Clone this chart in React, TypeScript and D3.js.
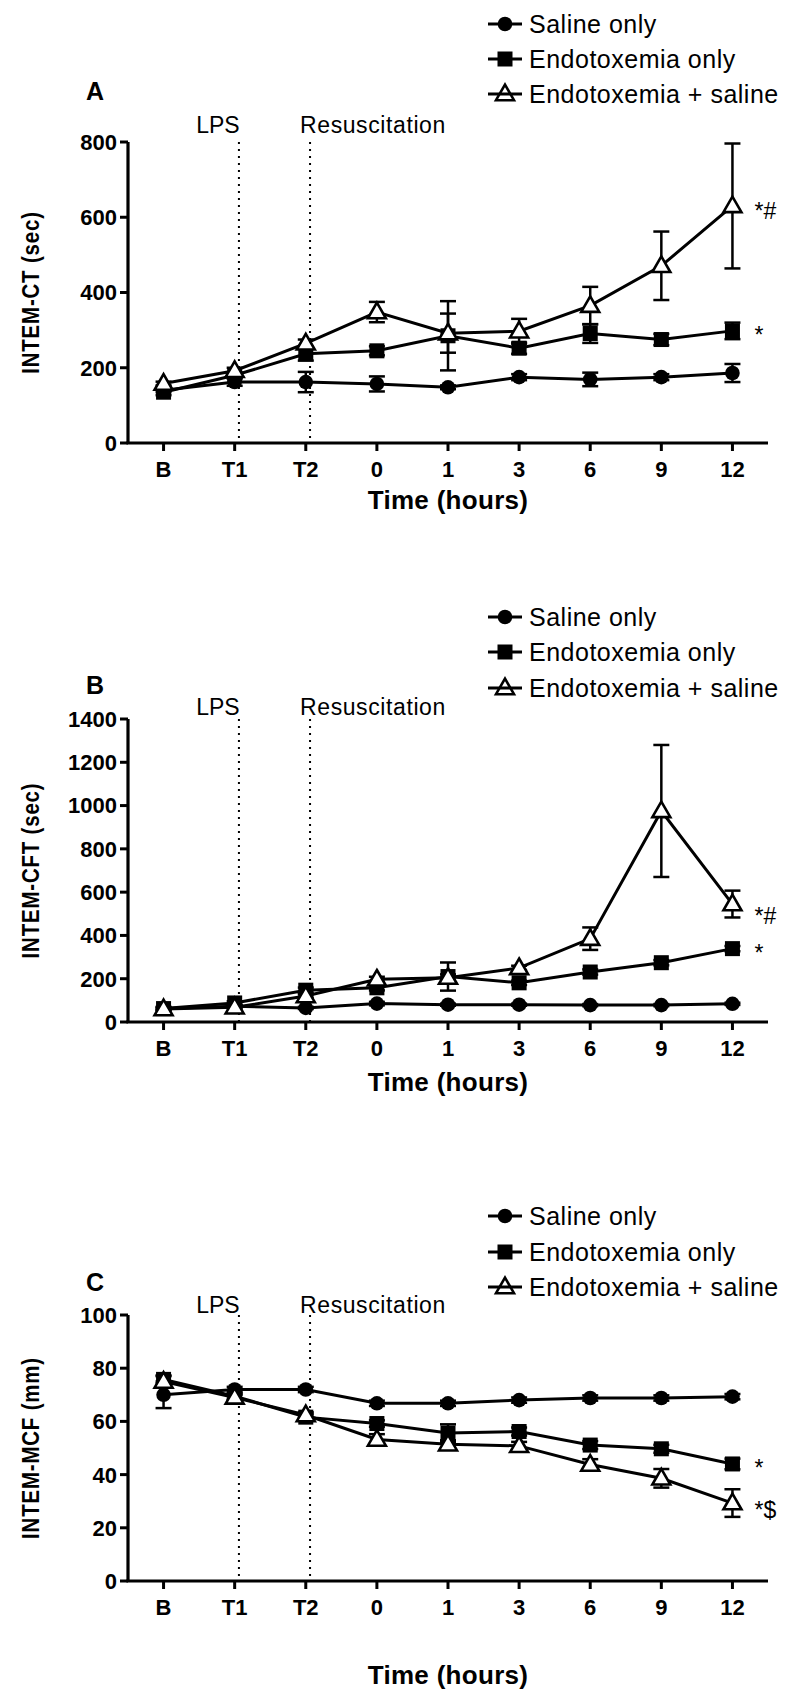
import React from "react";
import * as d3 from "d3";

// ---------- data ----------
const timePoints = ["B", "T1", "T2", "0", "1", "3", "6", "9", "12"];
const groupNames = ["Saline only", "Endotoxemia only", "Endotoxemia + saline"];

// Panel A: INTEM-CT (sec)
const ctSaline = [140, 162, 162, 157, 148, 175, 169, 175, 186];
const ctSalineErr = [5, 10, 27, 20, 5, 8, 18, 8, 24];
const ctEndo = [135, 180, 237, 245, 285, 252, 291, 275, 298];
const ctEndoErr = [8, 8, 18, 12, 92, 15, 25, 15, 22];
const ctEndoSaline = [158, 192, 265, 348, 292, 297, 365, 471, 630];
const ctEndoSalineErr = [5, 8, 10, 27, 52, 33, 50, 91, 166];
const ctTicks = [0, 200, 400, 600, 800];
const ctMarks = ["", "*", "*#"];

// Panel B: INTEM-CFT (sec)
const cftSaline = [62, 73, 65, 85, 80, 80, 78, 78, 84];
const cftSalineErr = [5, 5, 5, 8, 5, 5, 5, 5, 5];
const cftEndo = [62, 88, 147, 158, 210, 181, 231, 274, 339];
const cftEndoErr = [8, 8, 12, 12, 65, 10, 12, 12, 12];
const cftEndoSaline = [60, 68, 120, 197, 205, 250, 385, 975, 545];
const cftEndoSalineErr = [5, 5, 8, 12, 15, 10, 52, 305, 62];
const cftTicks = [0, 200, 400, 600, 800, 1000, 1200, 1400];
const cftMarks = ["", "*", "*#"];

// Panel C: INTEM-MCF (mm)
const mcfSaline = [70, 72, 72, 66.8, 66.8, 68, 68.8, 68.8, 69.3];
const mcfSalineErr = [5, 1, 1, 1, 1, 1, 1, 1, 1];
const mcfEndo = [75.8, 69.5, 61.6, 59.2, 55.6, 56.2, 51.1, 49.7, 44];
const mcfEndoErr = [1.5, 1, 1, 1.2, 3.3, 1.5, 1.5, 1.5, 2];
const mcfEndoSaline = [75, 69, 62.4, 53.2, 51.4, 50.8, 43.8, 38.6, 29.3];
const mcfEndoSalineErr = [2, 1, 1, 2, 1.5, 1.5, 2, 3.5, 5.2];
const mcfTicks = [0, 20, 40, 60, 80, 100];
const mcfMarks = ["", "*", "*$"];

const eventLabels = ["LPS", "Resuscitation"];
const eventAfter = ["T1", "T2"];

// ---------- layout ----------
const FONT = "'Liberation Sans', Arial, Helvetica, sans-serif";
const X_LEFT = 128;
const X_RIGHT = 768;

const panels = [
  {
    letter: "A",
    title: "INTEM-CT (sec)",
    series: [ctSaline, ctEndo, ctEndoSaline],
    errors: [ctSalineErr, ctEndoErr, ctEndoSalineErr],
    ticks: ctTicks,
    marks: ctMarks,
    top: 142,
    bottom: 443,
    letterY: 100,
    eventY: 133,
    legendY: [24, 59, 94],
    timeY: 509,
    markDy: [0, 12, 13],
  },
  {
    letter: "B",
    title: "INTEM-CFT (sec)",
    series: [cftSaline, cftEndo, cftEndoSaline],
    errors: [cftSalineErr, cftEndoErr, cftEndoSalineErr],
    ticks: cftTicks,
    marks: cftMarks,
    top: 719,
    bottom: 1022,
    letterY: 694,
    eventY: 715,
    legendY: [617, 652, 688],
    timeY: 1091,
    markDy: [0, 12, 20],
  },
  {
    letter: "C",
    title: "INTEM-MCF (mm)",
    series: [mcfSaline, mcfEndo, mcfEndoSaline],
    errors: [mcfSalineErr, mcfEndoErr, mcfEndoSalineErr],
    ticks: mcfTicks,
    marks: mcfMarks,
    top: 1315,
    bottom: 1581,
    letterY: 1291,
    eventY: 1313,
    legendY: [1216, 1252, 1287],
    timeY: 1684,
    markDy: [0, 12, 15],
  },
];

const triPath = d3.symbol(d3.symbolTriangle, 140)() as string;

function Marker({ kind, x, y, legend }: { kind: number; x: number; y: number; legend?: boolean }) {
  if (kind === 0) return <circle cx={x} cy={y} r={7.3} fill="#000" />;
  if (kind === 1) return <rect x={x - 7.5} y={y - 7.5} width={15} height={15} fill="#000" />;
  return (
    <path
      d={triPath}
      transform={`translate(${x},${y + 1})`}
      fill={legend ? "none" : "#fff"}
      stroke="#000"
      strokeWidth={2.6}
    />
  );
}

function Panel({ p }: { p: (typeof panels)[number] }) {
  const x = d3.scalePoint<string>().domain(timePoints).range([X_LEFT, X_RIGHT]).padding(0.5);
  const yMax = p.ticks[p.ticks.length - 1];
  const y = d3.scaleLinear().domain([0, yMax]).range([p.bottom, p.top]);
  const step = x.step();
  const line = d3
    .line<number>()
    .x((_, i) => x(timePoints[i]) as number)
    .y((d) => y(d));
  const midY = (p.top + p.bottom) / 2;
  const eventX = eventAfter.map((t) => (x(t) as number) + step * 0.06);
  const lastX = x(timePoints[timePoints.length - 1]) as number;

  return (
    <g>
      {/* panel letter */}
      <text x={95} y={p.letterY} fontSize={25} fontWeight="bold" textAnchor="middle" fontFamily={FONT}>
        {p.letter}
      </text>

      {/* legend */}
      {groupNames.map((g, i) => (
        <g key={g}>
          <line x1={488} x2={522} y1={p.legendY[i]} y2={p.legendY[i]} stroke="#000" strokeWidth={3} />
          <Marker kind={i} x={505} y={p.legendY[i]} legend />
          <text x={529} y={p.legendY[i]} dy="0.35em" fontSize={25} letterSpacing={0.5} fontFamily={FONT}>
            {g}
          </text>
        </g>
      ))}

      {/* event lines */}
      {eventX.map((ex, i) => (
        <g key={eventLabels[i]}>
          <line x1={ex} x2={ex} y1={p.top} y2={p.bottom} stroke="#000" strokeWidth={2} strokeDasharray="2,5" />
          <text
            x={i === 0 ? ex - 21 : ex - 10}
            y={p.eventY}
            fontSize={23}
            letterSpacing={i === 0 ? 0 : 0.6}
            textAnchor={i === 0 ? "middle" : "start"}
            fontFamily={FONT}
          >
            {eventLabels[i]}
          </text>
        </g>
      ))}

      {/* axes */}
      <line x1={X_LEFT} x2={X_LEFT} y1={p.top} y2={p.bottom} stroke="#000" strokeWidth={3.2} />
      <line x1={X_LEFT - 1.6} x2={X_RIGHT} y1={p.bottom} y2={p.bottom} stroke="#000" strokeWidth={3.2} />
      {p.ticks.map((t) => (
        <g key={t}>
          <line x1={X_LEFT - 8} x2={X_LEFT} y1={y(t)} y2={y(t)} stroke="#000" strokeWidth={3} />
          <text
            x={X_LEFT - 11}
            y={y(t)}
            dy="0.36em"
            textAnchor="end"
            fontSize={22}
            fontWeight="bold"
            fontFamily={FONT}
          >
            {t}
          </text>
        </g>
      ))}
      {timePoints.map((t) => (
        <g key={t}>
          <line x1={x(t)} x2={x(t)} y1={p.bottom} y2={p.bottom + 8} stroke="#000" strokeWidth={3} />
          <text
            x={x(t)}
            y={p.bottom + 34}
            textAnchor="middle"
            fontSize={22}
            fontWeight="bold"
            fontFamily={FONT}
          >
            {t}
          </text>
        </g>
      ))}
      <text
        x={(X_LEFT + X_RIGHT) / 2}
        y={p.timeY}
        textAnchor="middle"
        fontSize={26}
        fontWeight="bold"
        letterSpacing={0.3}
        fontFamily={FONT}
      >
        Time (hours)
      </text>
      <text
        transform={`translate(31,${midY}) rotate(-90) scale(0.85,1)`}
        textAnchor="middle"
        dy="0.35em"
        fontSize={24}
        fontWeight="bold"
        letterSpacing={1}
        fontFamily={FONT}
      >
        {p.title}
      </text>

      {/* series */}
      {p.series.map((s, si) => (
        <g key={si}>
          <path d={line(s) as string} fill="none" stroke="#000" strokeWidth={3} />
          {s.map((v, i) => {
            const e = p.errors[si][i];
            const cx = x(timePoints[i]) as number;
            return (
              <g key={i}>
                <line x1={cx} x2={cx} y1={y(v - e)} y2={y(v + e)} stroke="#000" strokeWidth={2.5} />
                <line x1={cx - 8} x2={cx + 8} y1={y(v - e)} y2={y(v - e)} stroke="#000" strokeWidth={2.5} />
                <line x1={cx - 8} x2={cx + 8} y1={y(v + e)} y2={y(v + e)} stroke="#000" strokeWidth={2.5} />
              </g>
            );
          })}
        </g>
      ))}
      {p.series.map((s, si) => (
        <g key={"m" + si}>
          {s.map((v, i) => (
            <Marker key={i} kind={si} x={x(timePoints[i]) as number} y={y(v)} />
          ))}
        </g>
      ))}

      {/* significance marks */}
      {p.marks.map((m, si) =>
        m ? (
          <text
            key={"s" + si}
            x={lastX + 22}
            y={y(p.series[si][p.series[si].length - 1]) + p.markDy[si]}
            fontSize={23}
            fontFamily={FONT}
          >
            {m}
          </text>
        ) : null
      )}
    </g>
  );
}

export default function App() {
  return (
    <svg
      width={800}
      height={1690}
      style={{ position: "absolute", left: 0, top: 0, background: "#fff" }}
    >
      <rect width={800} height={1690} fill="#fff" />
      {panels.map((p) => (
        <Panel key={p.letter} p={p} />
      ))}
    </svg>
  );
}
